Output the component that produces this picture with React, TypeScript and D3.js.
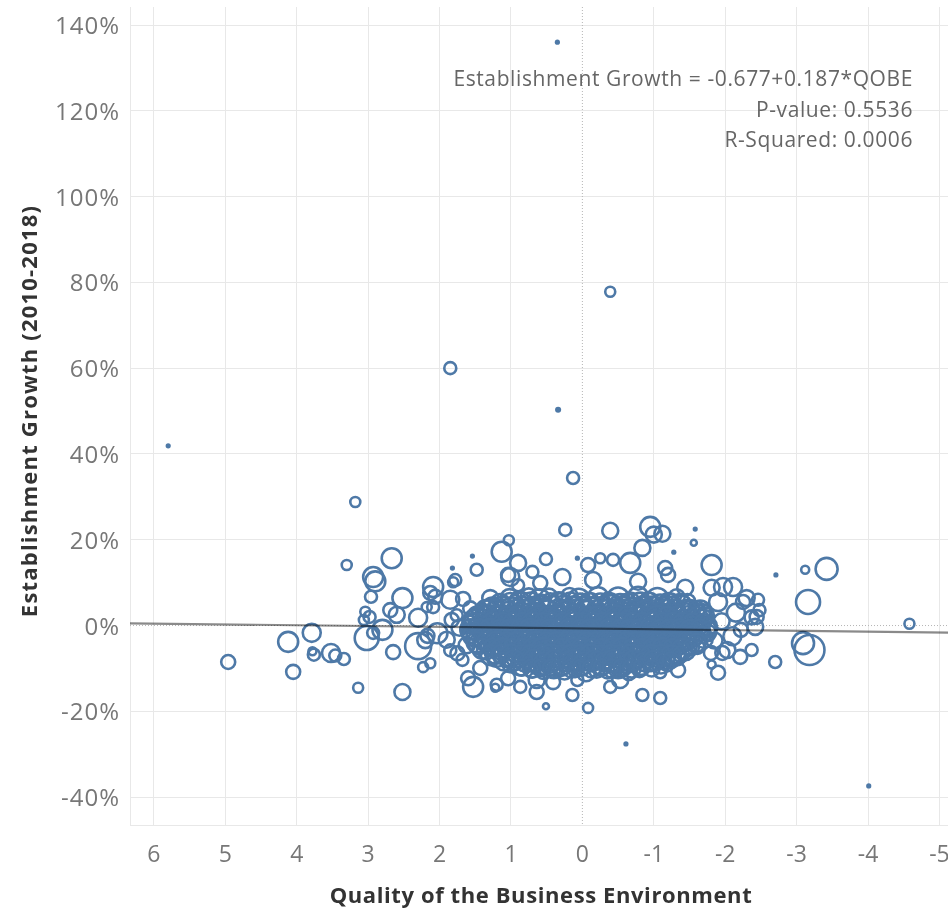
import React from "react";
import * as d3 from "d3";

// Each entry: [quality of business environment, establishment growth %, establishment count]
const scatteredPoints: [number, number, number][] = [
  [0.35, 136.0, 4], [-0.39, 77.8, 25], [1.85, 60.0, 36], [0.34, 50.3, 6], [5.8, 41.9, 4],
  [0.13, 34.4, 36], [3.18, 28.8, 25], [0.24, 22.3, 36], [-0.39, 22.1, 64], [-0.95, 23.0, 100],
  [-1.0, 21.2, 64], [-1.12, 21.4, 64], [-1.58, 22.5, 4], [-1.56, 19.3, 9], [-1.28, 17.1, 4],
  [-2.71, 11.8, 4], [-3.12, 13.0, 16], [-3.42, 13.2, 121], [-3.16, 5.5, 144], [-3.09, -4.1, 121],
  [-3.18, -5.7, 225], [-2.7, -8.5, 36], [-4.58, 0.4, 25], [-4.01, -37.4, 4], [-0.61, -27.6, 4],
  [-0.08, -19.2, 25], [0.51, -18.8, 9], [4.96, -8.5, 49], [4.05, -10.8, 49], [4.12, -3.8, 100],
  [3.79, -1.7, 81], [3.76, -6.8, 36], [3.78, -6.0, 16], [3.52, -6.4, 81], [3.46, -7.0, 36],
  [3.34, -7.8, 36], [3.14, -14.5, 25], [3.3, 14.1, 25], [2.67, 15.7, 100], [2.93, 11.3, 100],
  [2.9, 10.3, 100], [2.96, 6.7, 36], [3.04, 3.2, 25], [2.98, 2.0, 36], [3.06, 1.3, 25],
  [3.02, -2.9, 144], [2.93, -1.7, 36], [2.8, -1.0, 100], [2.69, 3.6, 49], [2.52, 6.4, 100],
  [2.6, 2.5, 64], [2.65, -6.2, 49], [2.52, -15.5, 64], [2.3, 1.8, 81], [2.3, -4.8, 169],
  [2.2, -3.4, 64], [2.23, -9.7, 25], [2.13, -8.8, 25], [2.09, 9.0, 100], [2.13, 7.6, 49],
  [2.06, 6.7, 49], [2.18, 4.3, 25], [2.09, 4.3, 36], [1.81, 10.1, 25], [1.85, 6.0, 81],
  [2.03, -1.8, 100], [2.17, -2.4, 49], [1.9, -3.3, 64], [1.83, 1.3, 49], [1.76, 2.4, 36],
  [1.54, 16.2, 4], [1.82, 13.4, 4], [1.13, 17.2, 100], [1.03, 19.9, 25], [1.48, 13.0, 36],
  [1.78, 10.6, 36], [0.9, 14.6, 64], [0.51, 15.5, 36], [1.01, 11.3, 81], [1.04, 11.8, 49],
  [0.7, 12.5, 36], [0.28, 11.3, 64], [0.07, 15.7, 4], [-0.08, 14.1, 49], [-0.25, 15.7, 25],
  [-0.43, 15.3, 36], [-0.67, 14.6, 100], [-0.84, 18.1, 64], [-1.16, 13.4, 49], [-0.15, 10.6, 64],
  [1.29, 6.4, 64], [1.67, 6.2, 49], [1.57, 4.0, 49], [0.59, 9.9, 49], [0.9, 9.4, 36],
  [1.53, -14.3, 100], [1.6, -12.3, 49], [1.43, -9.9, 49], [1.2, -13.8, 36], [1.22, -14.5, 16],
  [0.64, -12.7, 64], [0.64, -15.5, 49], [0.14, -16.2, 36], [-0.39, -14.3, 36], [-0.53, -12.7, 64],
  [-0.84, -16.2, 36], [-1.09, -16.9, 36], [1.04, -12.3, 49], [0.87, -14.3, 36], [0.41, -13.2, 49],
  [0.07, -12.7, 36], [-1.2, 11.8, 49], [-1.81, 14.1, 100], [-0.78, 10.2, 64], [-1.44, 8.8, 64],
  [-1.81, 8.8, 64], [-2.11, 9.0, 81], [-1.97, 9.0, 81], [-2.3, 6.4, 64], [-2.46, 6.0, 36],
  [-2.48, 3.6, 36], [-2.44, 2.0, 49], [-2.42, -0.3, 64], [-2.37, 1.9, 49], [-2.22, -1.0, 49],
  [-2.03, -5.7, 64], [-1.96, -6.4, 49], [-2.21, -7.3, 49], [-2.37, -5.7, 36], [-1.8, -6.4, 49],
  [-1.61, -5.0, 49], [-1.27, -6.4, 144], [-1.9, -11.0, 49], [-1.81, -9.1, 16], [-1.34, -10.4, 49],
  [-1.09, -10.9, 36], [-1.19, -9.3, 36], [-1.65, 3.5, 100], [-1.9, 5.5, 81], [-2.15, 3.0, 81],
  [-2.25, 5.5, 49], [-1.95, 1.0, 64], [-2.1, -2.5, 81], [-1.85, -3.5, 64], [1.75, -6.5, 49],
  [1.68, -8.0, 36], [1.62, -4.6, 64], [1.72, -0.5, 64], [1.85, -5.8, 36],
];

// Dense central band of establishments
const centralPoints: [number, number, number][] = [
  [1.02, 6.4, 81], [0.88, 5.6, 100], [0.75, 6.8, 64], [0.6, 5.9, 121], [0.47, 6.5, 81], [0.33, 5.4, 100],
  [0.18, 6.9, 64], [0.05, 6.0, 121], [-0.09, 5.5, 81], [-0.22, 6.6, 100], [-0.36, 5.8, 64], [-0.5, 6.3, 121],
  [-0.63, 5.3, 81], [-0.78, 6.7, 100], [-0.92, 5.9, 64], [-1.05, 6.2, 121], [-1.2, 5.5, 81], [-1.32, 6.6, 64],
  [1.26, 4.2, 100], [1.12, 4.9, 64], [0.99, 4.0, 121], [0.85, 4.7, 81], [0.7, 4.3, 100], [0.57, 5.0, 64],
  [0.43, 4.1, 144], [0.28, 4.8, 81], [0.14, 4.4, 100], [0.0, 4.9, 64], [-0.13, 4.0, 121], [-0.28, 4.6, 81],
  [-0.41, 4.3, 144], [-0.56, 4.9, 64], [-0.7, 4.1, 100], [-0.84, 4.7, 81], [-0.98, 4.2, 121], [-1.12, 4.8, 64],
  [-1.26, 4.4, 100], [-1.4, 4.9, 81], [-1.52, 4.1, 64],
  [1.42, 2.8, 81], [1.3, 3.4, 121], [1.16, 2.6, 64], [1.03, 3.2, 100], [0.9, 2.7, 81], [0.77, 3.3, 144],
  [0.62, 2.9, 64], [0.49, 3.5, 100], [0.35, 2.6, 81], [0.21, 3.1, 121], [0.07, 2.8, 64], [-0.06, 3.4, 100],
  [-0.2, 2.7, 81], [-0.34, 3.2, 144], [-0.48, 2.6, 64], [-0.62, 3.0, 100], [-0.76, 3.5, 81], [-0.9, 2.8, 121],
  [-1.04, 3.3, 64], [-1.18, 2.7, 100], [-1.32, 3.1, 81], [-1.46, 2.6, 121], [-1.6, 3.2, 64], [-1.68, 2.9, 81],
  [1.52, 1.3, 100], [1.38, 1.8, 64], [1.25, 1.1, 121], [1.11, 1.7, 81], [0.97, 1.2, 100], [0.83, 1.9, 64],
  [0.69, 1.4, 144], [0.55, 1.0, 81], [0.41, 1.6, 100], [0.27, 1.2, 64], [0.13, 1.8, 121], [-0.01, 1.3, 81],
  [-0.15, 1.7, 100], [-0.29, 1.1, 64], [-0.43, 1.5, 144], [-0.57, 1.9, 81], [-0.71, 1.2, 100], [-0.85, 1.6, 64],
  [-0.99, 1.0, 121], [-1.13, 1.7, 81], [-1.27, 1.3, 100], [-1.41, 1.8, 64], [-1.55, 1.2, 100], [-1.7, 1.6, 81],
  [1.56, 0.2, 81], [1.43, -0.3, 121], [1.29, 0.4, 64], [1.16, -0.2, 100], [1.02, 0.3, 81], [0.88, -0.4, 144],
  [0.74, 0.1, 64], [0.6, 0.5, 100], [0.46, -0.2, 81], [0.32, 0.3, 121], [0.18, -0.3, 64], [0.04, 0.2, 100],
  [-0.1, -0.4, 81], [-0.24, 0.4, 144], [-0.38, -0.1, 64], [-0.52, 0.3, 100], [-0.66, -0.3, 81], [-0.8, 0.2, 121],
  [-0.94, -0.2, 64], [-1.08, 0.4, 100], [-1.22, -0.1, 81], [-1.36, 0.3, 121], [-1.5, -0.3, 64], [-1.63, 0.2, 100],
  [-1.76, -0.2, 81],
  [1.55, -1.7, 100], [1.41, -1.2, 64], [1.28, -1.8, 121], [1.14, -1.3, 81], [1.0, -1.9, 100], [0.86, -1.1, 64],
  [0.72, -1.6, 121], [0.58, -1.2, 81], [0.44, -1.8, 144], [0.3, -1.3, 64], [0.16, -1.7, 100], [0.02, -1.1, 81],
  [-0.12, -1.9, 121], [-0.26, -1.4, 64], [-0.4, -1.8, 100], [-0.54, -1.2, 81], [-0.68, -1.7, 144], [-0.82, -1.3, 64],
  [-0.96, -1.9, 100], [-1.1, -1.2, 81], [-1.24, -1.6, 121], [-1.38, -1.1, 64], [-1.52, -1.8, 100], [-1.66, -1.4, 81],
  [-1.76, -1.7, 64],
  [1.5, -2.8, 81], [1.36, -3.3, 121], [1.22, -2.7, 64], [1.08, -3.2, 100], [0.94, -2.9, 81], [0.8, -3.4, 144],
  [0.66, -2.8, 64], [0.52, -3.1, 100], [0.38, -2.6, 81], [0.24, -3.3, 121], [0.1, -2.9, 64], [-0.04, -3.4, 100],
  [-0.18, -2.7, 81], [-0.32, -3.2, 144], [-0.46, -2.8, 64], [-0.6, -3.3, 100], [-0.74, -2.6, 81], [-0.88, -3.1, 121],
  [-1.02, -2.8, 64], [-1.16, -3.4, 100], [-1.3, -2.9, 81], [-1.44, -3.2, 121], [-1.58, -2.7, 64], [-1.7, -3.1, 81],
  [1.45, -4.3, 100], [1.31, -4.8, 64], [1.17, -4.2, 121], [1.03, -4.7, 81], [0.89, -4.4, 100], [0.75, -4.9, 64],
  [0.61, -4.2, 144], [0.47, -4.6, 81], [0.33, -4.1, 100], [0.19, -4.8, 64], [0.05, -4.3, 121], [-0.09, -4.9, 81],
  [-0.23, -4.4, 100], [-0.37, -4.7, 64], [-0.51, -4.2, 144], [-0.65, -4.8, 81], [-0.79, -4.3, 100], [-0.93, -4.6, 64],
  [-1.07, -4.1, 121], [-1.21, -4.7, 81], [-1.35, -4.4, 100], [-1.49, -4.9, 64], [-1.6, -4.3, 81],
  [1.35, -5.8, 81], [1.21, -6.3, 121], [1.07, -5.7, 64], [0.93, -6.2, 100], [0.79, -5.9, 81], [0.65, -6.4, 144],
  [0.51, -5.8, 64], [0.37, -6.1, 100], [0.23, -5.6, 81], [0.09, -6.3, 121], [-0.05, -5.9, 64], [-0.19, -6.4, 100],
  [-0.33, -5.7, 81], [-0.47, -6.2, 144], [-0.61, -5.8, 64], [-0.75, -6.3, 100], [-0.89, -5.6, 81], [-1.03, -6.1, 121],
  [-1.17, -5.8, 64], [-1.31, -6.4, 100], [-1.45, -5.9, 81],
  [1.2, -7.3, 100], [1.06, -7.8, 64], [0.92, -7.2, 121], [0.78, -7.7, 81], [0.64, -7.4, 100], [0.5, -7.9, 64],
  [0.36, -7.2, 121], [0.22, -7.6, 81], [0.08, -7.1, 100], [-0.06, -7.8, 64], [-0.2, -7.3, 121], [-0.34, -7.9, 81],
  [-0.48, -7.4, 100], [-0.62, -7.7, 64], [-0.76, -7.2, 121], [-0.9, -7.8, 81], [-1.04, -7.3, 100], [-1.18, -7.6, 64],
  [-1.32, -7.2, 81],
  [1.0, -8.8, 81], [0.86, -9.3, 100], [0.72, -8.7, 64], [0.58, -9.2, 121], [0.44, -8.9, 81], [0.3, -9.4, 100],
  [0.16, -8.8, 64], [0.02, -9.1, 121], [-0.12, -8.6, 81], [-0.26, -9.3, 100], [-0.4, -8.9, 64], [-0.54, -9.4, 121],
  [-0.68, -8.7, 81], [-0.82, -9.2, 100], [-0.96, -8.8, 64], [-1.1, -9.1, 81],
  [0.7, -10.3, 64], [0.55, -10.8, 49], [0.4, -10.2, 81], [0.25, -10.7, 64], [0.1, -10.4, 49], [-0.05, -10.9, 81],
  [-0.2, -10.3, 64], [-0.35, -10.7, 49], [-0.5, -10.2, 81], [-0.65, -10.8, 64], [-0.8, -10.4, 49],
];

// Second, offset layer of the central band
const centralFill: [number, number, number][] = [
  [1.15, 5.0, 100], [1.01, 5.5, 81], [0.87, 5.1, 121], [0.73, 5.6, 81], [0.59, 4.9, 100], [0.45, 5.4, 81],
  [0.31, 5.0, 121], [0.17, 5.6, 81], [0.03, 5.1, 100], [-0.11, 5.5, 81], [-0.25, 4.9, 121], [-0.39, 5.4, 81],
  [-0.53, 5.0, 100], [-0.67, 5.6, 81], [-0.81, 5.1, 121], [-0.95, 5.5, 81], [-1.09, 4.9, 100], [-1.23, 5.4, 81],
  [-1.37, 5.0, 100], [-1.47, 5.5, 64],
  [1.35, 3.6, 100], [1.21, 3.9, 81], [1.07, 3.5, 121], [0.93, 3.9, 81], [0.79, 3.6, 100], [0.65, 4.0, 81],
  [0.51, 3.5, 121], [0.37, 3.8, 81], [0.23, 3.6, 100], [0.09, 3.9, 81], [-0.05, 3.5, 121], [-0.19, 3.8, 81],
  [-0.33, 3.6, 100], [-0.47, 4.0, 81], [-0.61, 3.5, 121], [-0.75, 3.9, 81], [-0.89, 3.6, 100], [-1.03, 3.8, 81],
  [-1.17, 3.5, 121], [-1.31, 3.9, 81], [-1.45, 3.6, 100], [-1.6, 3.8, 64],
  [1.47, 2.1, 100], [1.33, 2.4, 81], [1.19, 2.0, 121], [1.05, 2.3, 81], [0.91, 2.1, 100], [0.77, 2.4, 81],
  [0.63, 2.0, 121], [0.49, 2.3, 81], [0.35, 2.1, 100], [0.21, 2.4, 81], [0.07, 2.0, 121], [-0.07, 2.3, 81],
  [-0.21, 2.1, 100], [-0.35, 2.4, 81], [-0.49, 2.0, 121], [-0.63, 2.3, 81], [-0.77, 2.1, 100], [-0.91, 2.4, 81],
  [-1.05, 2.0, 121], [-1.19, 2.3, 81], [-1.33, 2.1, 100], [-1.47, 2.4, 81], [-1.61, 2.0, 100], [-1.73, 2.3, 64],
  [1.53, 0.6, 100], [1.39, 0.9, 81], [1.25, 0.5, 121], [1.11, 0.8, 81], [0.97, 0.6, 100], [0.83, 0.9, 81],
  [0.69, 0.5, 121], [0.55, 0.8, 81], [0.41, 0.6, 100], [0.27, 0.9, 81], [0.13, 0.5, 121], [-0.01, 0.8, 81],
  [-0.15, 0.6, 100], [-0.29, 0.9, 81], [-0.43, 0.5, 121], [-0.57, 0.8, 81], [-0.71, 0.6, 100], [-0.85, 0.9, 81],
  [-0.99, 0.5, 121], [-1.13, 0.8, 81], [-1.27, 0.6, 100], [-1.41, 0.9, 81], [-1.55, 0.5, 100], [-1.69, 0.8, 64],
  [1.57, -0.9, 100], [1.43, -0.6, 81], [1.29, -1.0, 121], [1.15, -0.7, 81], [1.01, -0.9, 100], [0.87, -0.6, 81],
  [0.73, -1.0, 121], [0.59, -0.7, 81], [0.45, -0.9, 100], [0.31, -0.6, 81], [0.17, -1.0, 121], [0.03, -0.7, 81],
  [-0.11, -0.9, 100], [-0.25, -0.6, 81], [-0.39, -1.0, 121], [-0.53, -0.7, 81], [-0.67, -0.9, 100], [-0.81, -0.6, 81],
  [-0.95, -1.0, 121], [-1.09, -0.7, 81], [-1.23, -0.9, 100], [-1.37, -0.6, 81], [-1.51, -1.0, 100], [-1.65, -0.7, 81],
  [-1.77, -0.9, 64],
  [1.53, -2.4, 100], [1.39, -2.1, 81], [1.25, -2.5, 121], [1.11, -2.2, 81], [0.97, -2.4, 100], [0.83, -2.1, 81],
  [0.69, -2.5, 121], [0.55, -2.2, 81], [0.41, -2.4, 100], [0.27, -2.1, 81], [0.13, -2.5, 121], [-0.01, -2.2, 81],
  [-0.15, -2.4, 100], [-0.29, -2.1, 81], [-0.43, -2.5, 121], [-0.57, -2.2, 81], [-0.71, -2.4, 100], [-0.85, -2.1, 81],
  [-0.99, -2.5, 121], [-1.13, -2.2, 81], [-1.27, -2.4, 100], [-1.41, -2.1, 81], [-1.55, -2.5, 100], [-1.69, -2.2, 64],
  [1.48, -3.9, 100], [1.34, -3.6, 81], [1.2, -4.0, 121], [1.06, -3.7, 81], [0.92, -3.9, 100], [0.78, -3.6, 81],
  [0.64, -4.0, 121], [0.5, -3.7, 81], [0.36, -3.9, 100], [0.22, -3.6, 81], [0.08, -4.0, 121], [-0.06, -3.7, 81],
  [-0.2, -3.9, 100], [-0.34, -3.6, 81], [-0.48, -4.0, 121], [-0.62, -3.7, 81], [-0.76, -3.9, 100], [-0.9, -3.6, 81],
  [-1.04, -4.0, 121], [-1.18, -3.7, 81], [-1.32, -3.9, 100], [-1.46, -3.6, 81], [-1.6, -4.0, 81],
  [1.4, -5.4, 100], [1.26, -5.1, 81], [1.12, -5.5, 121], [0.98, -5.2, 81], [0.84, -5.4, 100], [0.7, -5.1, 81],
  [0.56, -5.5, 121], [0.42, -5.2, 81], [0.28, -5.4, 100], [0.14, -5.1, 81], [0.0, -5.5, 121], [-0.14, -5.2, 81],
  [-0.28, -5.4, 100], [-0.42, -5.1, 81], [-0.56, -5.5, 121], [-0.7, -5.2, 81], [-0.84, -5.4, 100], [-0.98, -5.1, 81],
  [-1.12, -5.5, 121], [-1.26, -5.2, 81], [-1.4, -5.4, 100], [-1.52, -5.1, 64],
  [1.28, -6.9, 100], [1.14, -6.6, 81], [1.0, -7.0, 121], [0.86, -6.7, 81], [0.72, -6.9, 100], [0.58, -6.6, 81],
  [0.44, -7.0, 121], [0.3, -6.7, 81], [0.16, -6.9, 100], [0.02, -6.6, 81], [-0.12, -7.0, 121], [-0.26, -6.7, 81],
  [-0.4, -6.9, 100], [-0.54, -6.6, 81], [-0.68, -7.0, 121], [-0.82, -6.7, 81], [-0.96, -6.9, 100], [-1.1, -6.6, 81],
  [-1.24, -7.0, 100], [-1.38, -6.7, 64],
  [1.1, -8.4, 81], [0.96, -8.1, 100], [0.82, -8.5, 81], [0.68, -8.2, 121], [0.54, -8.4, 81], [0.4, -8.1, 100],
  [0.26, -8.5, 81], [0.12, -8.2, 121], [-0.02, -8.4, 81], [-0.16, -8.1, 100], [-0.3, -8.5, 81], [-0.44, -8.2, 121],
  [-0.58, -8.4, 81], [-0.72, -8.1, 100], [-0.86, -8.5, 81], [-1.0, -8.2, 100], [-1.14, -8.4, 64], [-1.24, -8.1, 64],
  [0.85, -9.8, 64], [0.71, -10.0, 81], [0.57, -9.7, 64], [0.43, -10.0, 81], [0.29, -9.7, 64], [0.15, -10.0, 81],
  [0.01, -9.7, 64], [-0.13, -10.0, 81], [-0.27, -9.7, 64], [-0.41, -10.0, 81], [-0.55, -9.7, 64], [-0.69, -10.0, 81],
  [-0.83, -9.7, 64], [-0.97, -10.0, 64],
];

const xTicks = [6, 5, 4, 3, 2, 1, 0, -1, -2, -3, -4, -5];
const yTicks = [-40, -20, 0, 20, 40, 60, 80, 100, 120, 140];

// Linear fit reported in the annotation
const intercept = -0.677;
const slope = 0.187;
const statLines = [
  "Establishment Growth = -0.677+0.187*QOBE",
  "P-value: 0.5536",
  "R-Squared: 0.0006",
];

const W = 948;
const H = 911;
const left = 130;
const right = 948;
const top = 7;
const bottom = 825;

const FONT = "'Open Sans', 'Noto Sans', sans-serif";
const MARK = "#4e79a7";
const GRID = "#e8e8e8";

export default function App() {
  const x = d3.scaleLinear().domain([6.335, -5.12]).range([left, right]);
  const y = d3.scaleLinear().domain([-46.5, 144.2]).range([bottom, top]);
  const r = d3.scaleSqrt().domain([0, 196]).range([0, 14]);

  const points = [...scatteredPoints, ...centralPoints, ...centralFill];
  const xDom = x.domain();
  const fit = d3
    .line<number>()
    .x((d) => x(d))
    .y((d) => y(intercept + slope * d));

  return (
    <svg
      width={W}
      height={H}
      style={{ position: "absolute", left: 0, top: 0, background: "#fff" }}
      fontFamily={FONT}
    >
      {/* grid */}
      <g stroke={GRID} strokeWidth={1} shapeRendering="crispEdges">
        {xTicks
          .filter((t) => t !== 0)
          .map((t) => (
            <line key={"vx" + t} x1={x(t)} x2={x(t)} y1={top} y2={bottom} />
          ))}
        <line x1={left} x2={left} y1={top} y2={bottom} />
        {yTicks
          .filter((t) => t !== 0)
          .map((t) => (
            <line key={"hy" + t} x1={left} x2={right} y1={y(t)} y2={y(t)} />
          ))}
        <line x1={left} x2={right} y1={bottom} y2={bottom} />
      </g>
      {/* zero reference lines */}
      <g stroke="#b5b5b5" strokeWidth={1} strokeDasharray="1 2">
        <line x1={x(0)} x2={x(0)} y1={top} y2={bottom} />
        <line x1={left} x2={right} y1={y(0)} y2={y(0)} />
      </g>

      {/* marks */}
      <g>
        {points.map((p, i) => {
          const rad = r(p[2]);
          const small = p[2] < 8;
          return (
            <circle
              key={i}
              cx={x(p[0])}
              cy={y(p[1])}
              r={small ? rad + 0.6 : rad}
              fill={small ? MARK : "none"}
              stroke={MARK}
              strokeWidth={small ? 0 : 2.6}
            />
          );
        })}
      </g>

      {/* trend line */}
      <path
        d={fit([xDom[0], xDom[1]]) || ""}
        fill="none"
        stroke="#8a8a8a"
        strokeWidth={2.2}
        style={{ mixBlendMode: "multiply" }}
      />

      {/* y tick labels */}
      <g fill="#777" fontSize={24} letterSpacing={1} textAnchor="end">
        {yTicks.map((t) => (
          <text key={"yl" + t} x={120} y={y(t) + 9}>
            {t + "%"}
          </text>
        ))}
      </g>
      {/* x tick labels */}
      <g fill="#777" fontSize={23} textAnchor="middle">
        {xTicks.map((t) => (
          <text key={"xl" + t} x={x(t)} y={862}>
            {String(t)}
          </text>
        ))}
      </g>

      {/* regression annotation */}
      <g fill="#666" fontSize={21} letterSpacing={0.6} textAnchor="end">
        {statLines.map((s, i) => (
          <text key={s} x={913} y={86 + i * 30.5}>
            {s}
          </text>
        ))}
      </g>

      {/* axis titles */}
      <text
        x={541}
        y={903}
        textAnchor="middle"
        fontSize={22}
        letterSpacing={0.6}
        fontWeight="bold"
        fill="#333"
      >
        Quality of the Business Environment
      </text>
      <text
        transform={`translate(37, ${411}) rotate(-90)`}
        textAnchor="middle"
        fontSize={22}
        letterSpacing={1.2}
        fontWeight="bold"
        fill="#333"
      >
        Establishment Growth (2010-2018)
      </text>
    </svg>
  );
}
